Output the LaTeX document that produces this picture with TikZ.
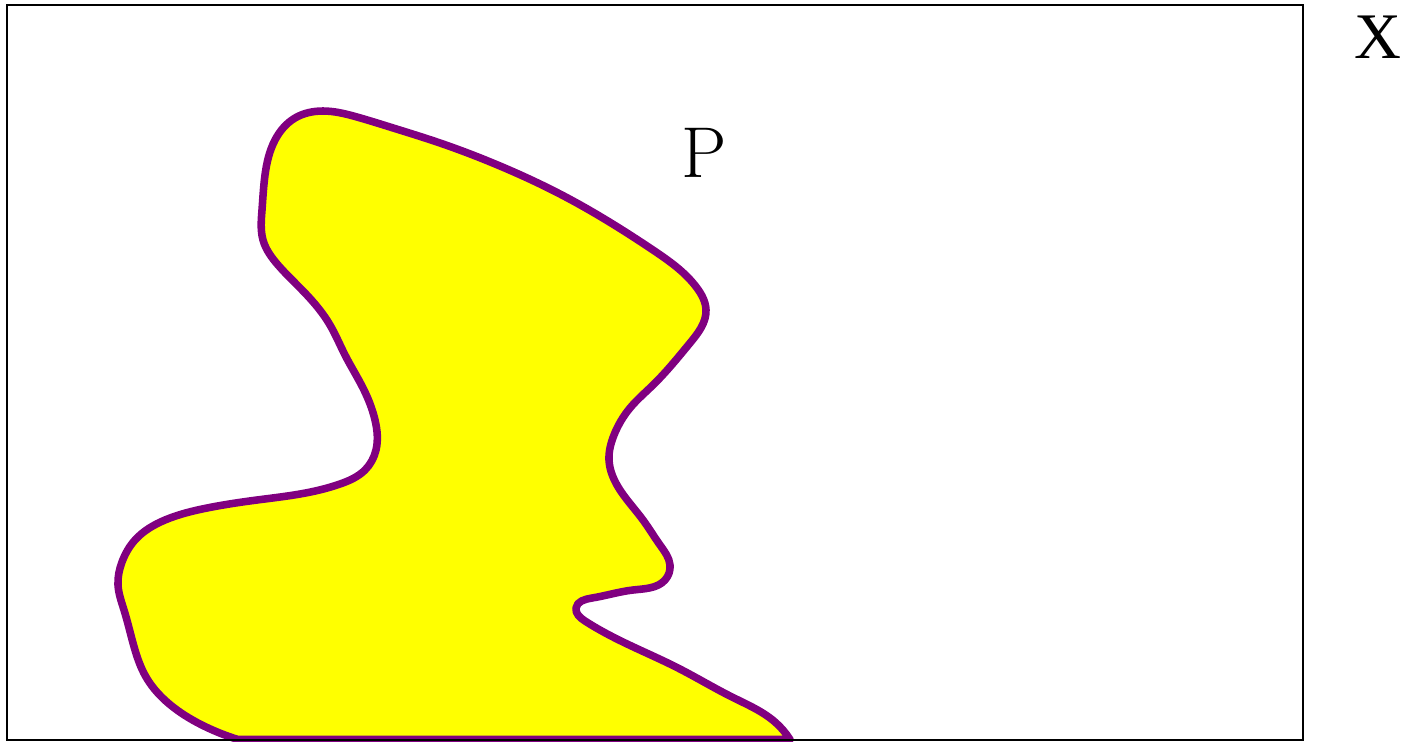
\documentclass[tikz,border=0pt]{standalone}
\usepackage{fontspec}
\usetikzlibrary{hobby}
\newfontfamily\timesfont{Liberation Serif}
\definecolor{blobpurple}{HTML}{800080}
\definecolor{blobyellow}{HTML}{FFFF00}
\tikzset{
  frame/.style={draw=black, line width=1.15pt},
  blob/.style={draw=blobpurple, fill=blobyellow, line width=4.3pt, line join=round},
  lblP/.style={inner sep=0pt, font=\fontsize{41}{45}\selectfont},
  lblX/.style={inner sep=0pt, font=\timesfont\fontsize{37}{40}\selectfont}
}
\begin{document}
\begin{tikzpicture}[x=0.02cm, y=-0.02cm]
\useasboundingbox (0,0) rectangle (1402,741);
\begin{scope}
\clip (0,0) rectangle (1402,741);
\draw[blob] (790,739.5) to[curve through={
 (775,722) (732,697) (678,668) (623,642) (585,621) (576,608) (592,598)
 (633,590) (665,580) (670,565) (660,545) (643,520) (620,490) (609,460)
 (614,435) (630,408) (653,385) (690,343) (706,310) (697,288) (653,250)
 (560,194) (500,166) (440,143) (390,127) (357,117) (323,111) (295,118)
 (275,140) (265,175) (262,210) (263,240) (278,265) (305,293) (330,325)
 (345,355) (363,388) (375,420) (376,450) (365,470) (340,484) (300,494)
 (257,500) (207,508) (165,520) (135,540) (122,562) (118,585) (124,610)
 (133,643) (146,677) (173,707) (206,727)}]
 (238,739.5) -- cycle;
\draw[frame] (7,5) rectangle (1303,740);
\end{scope}
\node[lblP] (P) at (704,153) {P};
\node[lblX] (X) at (1378,37) {X};
\end{tikzpicture}
\end{document}
